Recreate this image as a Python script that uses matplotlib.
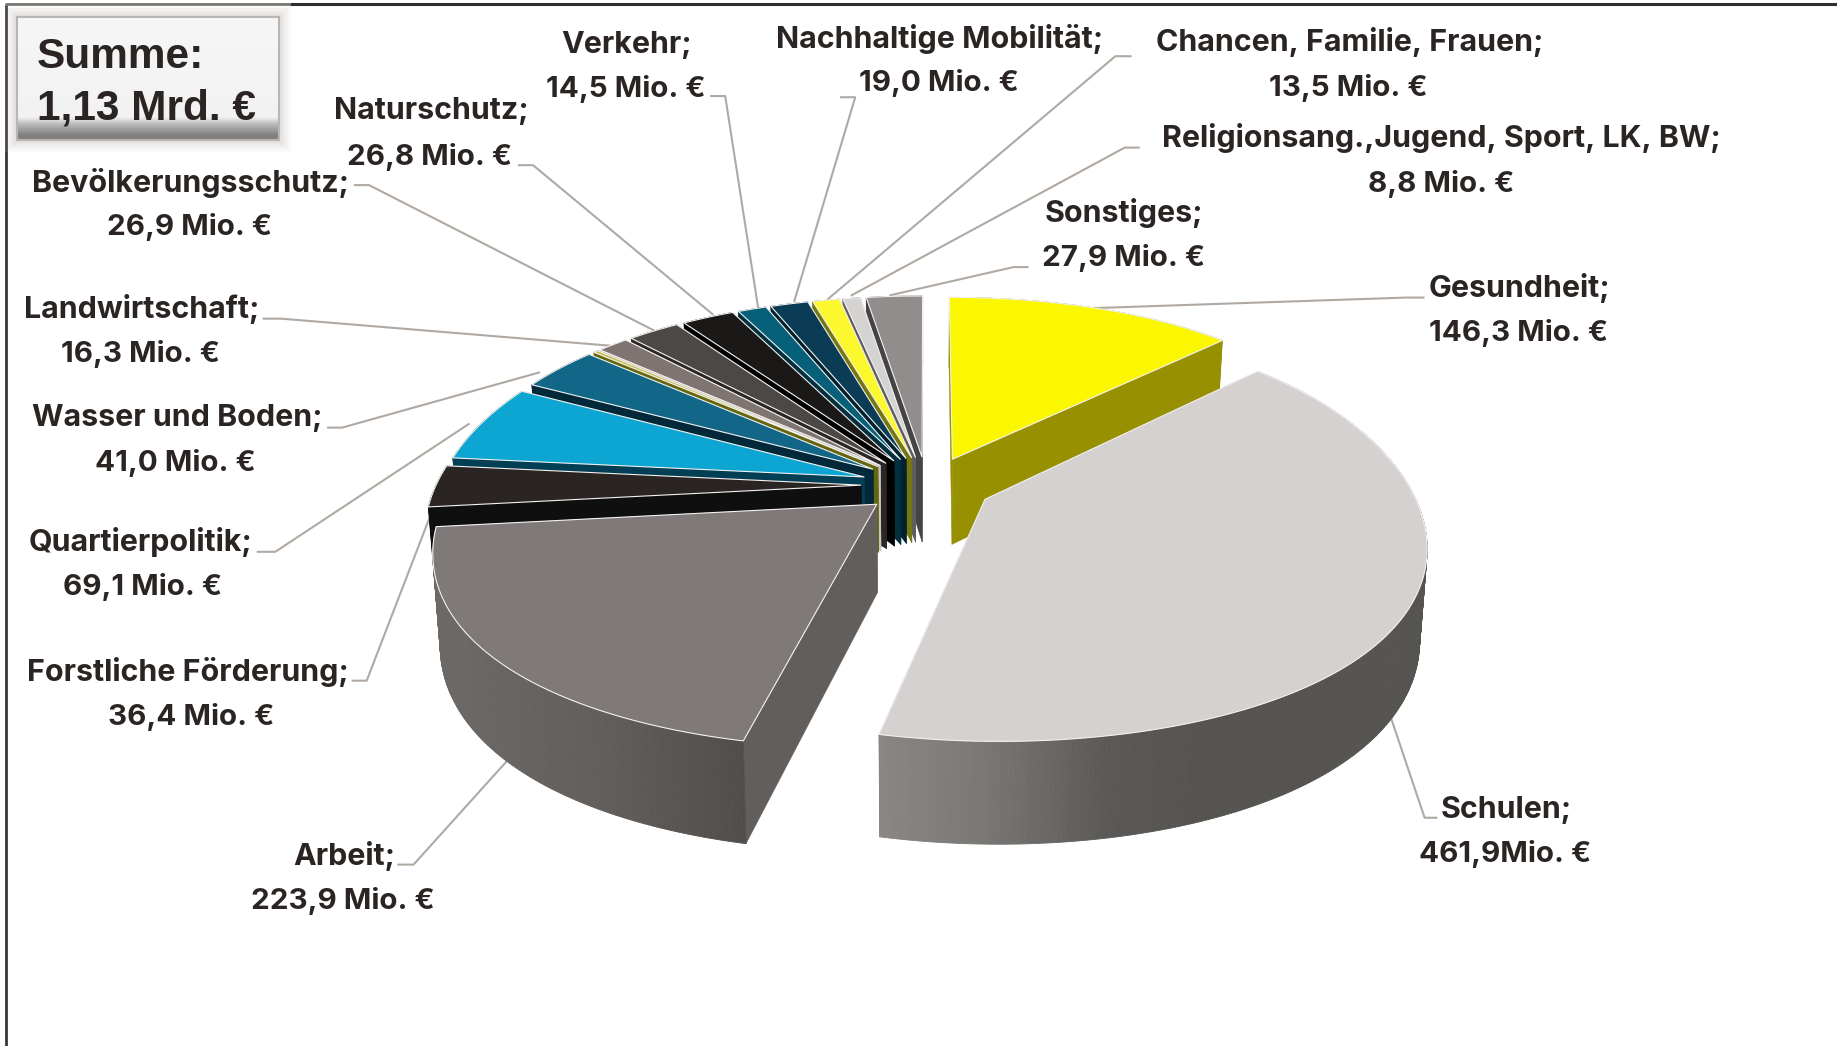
import numpy as np
import matplotlib
matplotlib.use("Agg")
import matplotlib.pyplot as plt
from matplotlib.colors import to_rgb
from matplotlib.patches import Rectangle

# slices clockwise from 12 o'clock, one thin slice has no label
slice_values = [146.3, 461.9, 223.9, 36.4, 69.1, 41.0, 2.5, 16.3, 26.9, 26.8, 14.5, 19.0, 13.5, 8.8, 27.9]
top_colors = ['#faf700', '#d5d1d1', '#7f7a79', '#2a2522', '#0da5d2', '#126688', '#c4bf50',
              '#7f7472', '#4c4846', '#1a1917', '#06607a', '#0a3d55', '#fbf82e', '#d5d2d2', '#908d8c']
wall_colors = ['#979000', '#555450', '#625e5c', '#100f0f', '#023f55', '#02293a', '#66660f',
               '#c8c5c3', '#2a2726', '#000000', '#02303f', '#03202e', '#77770f', '#5f5e5e', '#444444']

# label text
names = ['Gesundheit;', 'Schulen;', 'Arbeit;', 'Forstliche Förderung;', 'Quartierpolitik;', 'Wasser und Boden;',
         'Landwirtschaft;', 'Bevölkerungsschutz;', 'Naturschutz;', 'Verkehr;', 'Nachhaltige Mobilität;',
         'Chancen, Familie, Frauen;', 'Religionsang.,Jugend, Sport, LK, BW;', 'Sonstiges;']
amounts = ['146,3 Mio. €', '461,9Mio. €', '223,9 Mio. €', '36,4 Mio. €', '69,1 Mio. €', '41,0 Mio. €',
           '16,3 Mio. €', '26,9 Mio. €', '26,8 Mio. €', '14,5 Mio. €', '19,0 Mio. €',
           '13,5 Mio. €', '8,8 Mio. €', '27,9 Mio. €']

# layout, in the 1568 wide scale of the preview
name_pos = [(1297, 246), (1286, 691), (294, 731), (160, 574), (120, 463), (151, 357), (121, 264), (163, 156),
            (368, 95), (535, 38), (802, 33), (1152, 36), (1230, 118), (959, 182)]
amount_pos = [(1296, 284), (1285, 729), (293, 769), (163, 612), (122, 501), (150, 395), (120, 302), (162, 194),
              (367, 134), (534, 76), (801, 71), (1151, 75), (1230, 157), (959, 220)]
leaders = [[(1215, 254), (1200, 254), (933, 263)], [(1226, 698), (1216, 698), (1183, 600)],
           [(340, 738), (353, 738), (435, 647)], [(301, 581), (313, 581), (372, 428)],
           [(220, 471), (235, 471), (400, 362)], [(280, 365), (292, 365), (460, 318)],
           [(225, 272), (240, 272), (520, 295)], [(303, 158), (315, 158), (560, 283)],
           [(443, 141), (455, 141), (608, 268)], [(607, 82), (619, 82), (647, 262)],
           [(718, 83), (730, 83), (678, 257)], [(965, 48), (952, 48), (707, 255)],
           [(972, 126), (960, 126), (727, 252)], [(877, 228), (865, 228), (760, 252)]]
SC = 1837 / 1568

# pie projection
CX, CY = 927, 485
A, B, H = 425, 204, 87
EXPLODE_X = 0.155
EXPLODE_Y = 0.14
BOTTOM_SHRINK = 0.985


def project(theta, r, mid, bottom=False):
    x = EXPLODE_X * np.sin(mid) + r * np.sin(theta)
    y = -EXPLODE_Y * np.cos(mid) - r * np.cos(theta)
    sx = A * x * (1 + 0.19 * y + 0.06 * y * y)
    sy = CY + B * y * (1 + 0.164 * y)
    if bottom:
        return CX + sx * BOTTOM_SHRINK, sy + H * (1 + 0.17 * y)
    return CX + sx, sy


def shade(sx, stops):
    xs = [p[0] for p in stops]
    rgb = np.array([to_rgb(p[1]) for p in stops])
    return tuple(np.interp(sx, xs, rgb[:, i]) for i in range(3))


rim_stops = {1: [(876, '#8a8785'), (985, '#7a7875'), (1110, '#5a5958'), (1200, '#555450')],
             2: [(430, '#6c6967'), (600, '#625e5c'), (745, '#514d4b')]}

fig = plt.figure(figsize=(18.37, 10.46), dpi=100)
ax = fig.add_axes([0, 0, 1, 1])
ax.set_xlim(0, 1837)
ax.set_ylim(1046, 0)
ax.axis('off')

# frame
ax.plot([6, 6], [1046, 4], color='#3a3634', lw=2, solid_capstyle='butt')
ax.plot([5, 290], [4, 4], color='#77736f', lw=2, solid_capstyle='butt')
ax.plot([290, 1837], [4, 4], color='#2f2c2a', lw=2.2, solid_capstyle='butt')

# pie, back slices first
total = sum(slice_values)
edges = np.cumsum([0] + slice_values) / total * 2 * np.pi
order = sorted(range(len(slice_values)), key=lambda i: -np.cos((edges[i] + edges[i + 1]) / 2))
z = 3
for i in order:
    t0, t1 = edges[i], edges[i + 1]
    mid = (t0 + t1) / 2
    arc = np.linspace(t0, t1, max(int((t1 - t0) * 120), 6))
    top = [project(t, 1, mid) for t in arc]
    low = [project(t, 1, mid, True) for t in arc]
    apex = project(0, 0, mid)
    apex_low = project(0, 0, mid, True)
    # walls
    for k in (0, -1):
        ax.fill([apex[0], top[k][0], low[k][0], apex_low[0]], [apex[1], top[k][1], low[k][1], apex_low[1]],
                color=wall_colors[i], lw=0.3, zorder=z)
    # rim
    for k in range(len(arc) - 1):
        c = shade(top[k][0], rim_stops[i]) if i in rim_stops else wall_colors[i]
        ax.fill([top[k][0], top[k + 1][0], low[k + 1][0], low[k][0]],
                [top[k][1], top[k + 1][1], low[k + 1][1], low[k][1]], color=c, lw=0.6, zorder=z)
    # top face
    px = [apex[0]] + [p[0] for p in top]
    py = [apex[1]] + [p[1] for p in top]
    ax.fill(px, py, facecolor=top_colors[i], edgecolor='#f4f2f0', lw=0.8, joinstyle='miter', zorder=z + 0.5)
    z += 1

# leader lines run behind the pie
for pts in leaders:
    ax.plot([p[0] * SC for p in pts], [p[1] * SC for p in pts], color='#b0a9a3', lw=1.5, zorder=2)

for n, a, np_, ap in zip(names, amounts, name_pos, amount_pos):
    ax.text(np_[0] * SC, np_[1] * SC, n, family='Inter', weight='bold', fontsize=21.9, color='#2a2523',
            ha='center', va='center', zorder=40)
    ax.text(ap[0] * SC, ap[1] * SC, a, family='Inter', weight='bold', fontsize=21.3, color='#2a2523',
            ha='center', va='center', zorder=40)

# sum box with soft halo and darkened lower edge
for grow, alpha in ((12, 0.12), (9, 0.18), (6, 0.25), (3, 0.35)):
    ax.add_patch(Rectangle((17 - grow, 17 - grow), 262 + 2 * grow, 123 + 2 * grow, color='#d8d3cf', alpha=alpha, lw=0, zorder=30))
ramp_y = np.linspace(0, 1, 60)
ramp_v = np.interp(ramp_y, [0, 0.82, 0.88, 0.97, 1], [0.965, 0.95, 0.72, 0.5, 0.5])
ax.imshow(np.dstack([ramp_v[:, None]] * 3), extent=(17, 279, 140, 17), aspect='auto', zorder=31)
ax.add_patch(Rectangle((17, 17), 262, 123, fill=False, edgecolor='#b8b5b2', lw=1.5, zorder=32))
ax.set_xlim(0, 1837)
ax.set_ylim(1046, 0)
ax.text(37, 68, 'Summe:', family='Liberation Sans', weight='bold', fontsize=30.5, color='#2a2523', va='baseline', zorder=33)
ax.text(37, 119, '1,13 Mrd. €', family='Liberation Sans', weight='bold', fontsize=30.5, color='#2a2523', va='baseline', zorder=33)

fig.savefig('out.png', dpi=100, facecolor='white')
